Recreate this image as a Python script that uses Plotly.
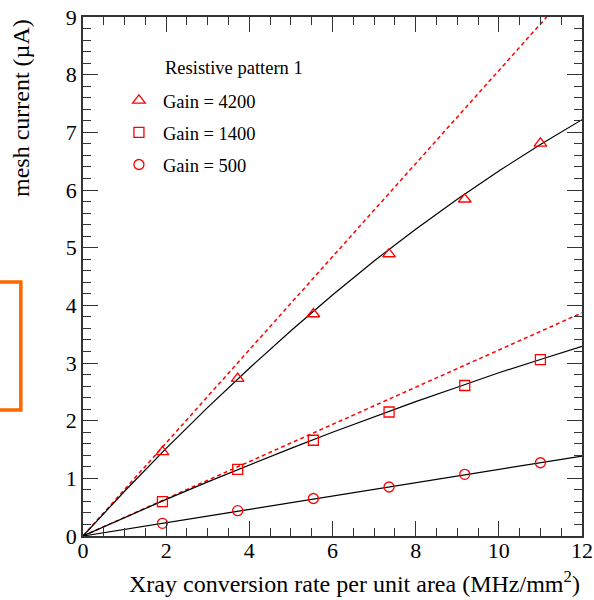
import plotly.graph_objects as go

# ---- data ----
x_rate = [1.91, 3.72, 5.54, 7.36, 9.18, 11.0]
i_4200 = [1.46, 2.73, 3.85, 4.89, 5.84, 6.81]
i_1400 = [0.595, 1.157, 1.66, 2.15, 2.61, 3.06]
i_500 = [0.22, 0.44, 0.65, 0.85, 1.07, 1.27]

fit_x = [0, 1, 2, 3, 4, 5, 6, 7, 8, 9, 10, 11, 12]
fit_4200 = [0, 0.776, 1.52, 2.23, 2.91, 3.56, 4.18, 4.77, 5.32, 5.84, 6.33, 6.79, 7.22]
fit_1400 = [0, 0.322, 0.635, 0.939, 1.235, 1.52, 1.80, 2.07, 2.33, 2.58, 2.83, 3.06, 3.29]
fit_500 = [0, 0.115, 0.23, 0.347, 0.462, 0.578, 0.693, 0.81, 0.925, 1.04, 1.155, 1.27, 1.386]

lin_x_4200 = [0, 11.15]
lin_y_4200 = [0, 9.0]
lin_x_1400 = [0, 12]
lin_y_1400 = [0, 3.87]

legend_title = "Resistive pattern 1"
names = ["Gain = 4200", "Gain = 1400", "Gain = 500"]

FONT = "Liberation Serif, Times New Roman, serif"
RED = "#ff0000"

fig = go.Figure()

# dashed linear references
fig.add_trace(go.Scatter(x=lin_x_4200, y=lin_y_4200, mode="lines", showlegend=False,
                         line=dict(color=RED, width=1.5, dash="4px,3px")))
fig.add_trace(go.Scatter(x=lin_x_1400, y=lin_y_1400, mode="lines", showlegend=False,
                         line=dict(color=RED, width=1.5, dash="4px,3px")))

# fit curves
for fy in (fit_4200, fit_1400, fit_500):
    fig.add_trace(go.Scatter(x=fit_x, y=fy, mode="lines", showlegend=False,
                             line=dict(color="black", width=1.2)))

# markers
symbols = ["triangle-up-open", "square-open", "circle-open"]
sizes = [11, 10, 10]
for k, (ys, nm, sym, sz) in enumerate(zip((i_4200, i_1400, i_500), names, symbols, sizes)):
    fig.add_trace(go.Scatter(x=x_rate, y=ys, mode="markers", name=nm, legendgroup=str(k),
                             marker=dict(symbol=sym, size=sz, color=RED,
                                         line=dict(color=RED, width=1.3))))

axis_common = dict(
    showgrid=False, zeroline=False, showline=True, linecolor="#333", linewidth=1.5,
    mirror="ticks", ticks="inside", ticklen=15, tickwidth=1.2, tickcolor="#333",
    tickfont=dict(family=FONT, size=22, color="black"), automargin=False,
)

fig.update_xaxes(range=[0, 12], dtick=2, tick0=0, ticklabelstandoff=-6,
                 minor=dict(dtick=0.5, ticklen=8, ticks="inside", tickcolor="#333", tickwidth=1.2),
                 **axis_common)
fig.update_yaxes(range=[0, 9], dtick=1, tick0=0,
                 minor=dict(dtick=0.2, ticklen=8, ticks="inside", tickcolor="#333", tickwidth=1.2),
                 **axis_common)

fig.update_layout(
    width=594, height=600,
    margin=dict(l=83, r=12, t=17, b=64, autoexpand=False),
    paper_bgcolor="white", plot_bgcolor="white",
    font=dict(family=FONT, color="black"),
    legend=dict(x=0.064, y=0.875, xanchor="left", yanchor="top", itemwidth=38,
                bgcolor="rgba(0,0,0,0)", font=dict(family=FONT, size=18.5),
                tracegroupgap=5),
    annotations=[
        dict(text="Xray conversion rate per unit area (MHz/mm<sup>2</sup>)",
             xref="paper", yref="paper", x=1, y=0, xanchor="right", yanchor="middle",
             yshift=-46, showarrow=False, font=dict(family=FONT, size=24)),
        dict(text="mesh current (\u00b5A)", textangle=-90,
             xref="paper", yref="paper", x=0, y=1, xanchor="center", yanchor="top",
             xshift=-62, showarrow=False, font=dict(family=FONT, size=24)),
        dict(text=legend_title, xref="paper", yref="paper", x=0.1603, y=0.9017,
             xanchor="left", yanchor="middle", showarrow=False,
             font=dict(family=FONT, size=18.5)),
    ],
    shapes=[
        dict(type="rect", xref="paper", yref="paper", x0=-0.2, x1=-0.1246,
             y0=0.2428, y1=0.4894, line=dict(color="#ff6600", width=3.5)),
    ],
)

fig.write_html("out.html")
